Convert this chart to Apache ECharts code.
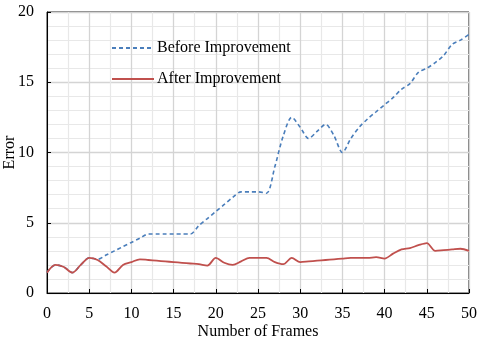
<!DOCTYPE html>
<html><head><meta charset="utf-8">
<script src="https://cdn.jsdelivr.net/npm/echarts@6/dist/echarts.min.js"></script>
<style>html,body{margin:0;padding:0;background:#fff}#c{width:480px;height:339px}</style>
</head><body><div id="c"></div>
<script>
var frames = [];
for (var i = 0; i <= 50; i++) frames.push(i);
var beforeImprovement = [1.45,2.0,1.85,1.45,2.0,2.5,2.4,2.7,3.0,3.3,3.6,3.9,4.2,4.2,4.2,4.2,4.2,4.2,4.8,5.3,5.8,6.3,6.8,7.2,7.2,7.2,7.1,9.0,11.2,12.5,11.8,11.0,11.5,12.0,11.2,10.0,11.0,11.8,12.4,12.9,13.4,13.9,14.5,14.9,15.7,16.0,16.4,16.9,17.7,18.0,18.4];
var afterImprovement = [1.45,2.0,1.85,1.45,2.0,2.5,2.35,1.9,1.45,2.0,2.2,2.4,2.35,2.3,2.25,2.2,2.15,2.1,2.05,1.95,2.5,2.15,2.0,2.25,2.5,2.5,2.5,2.2,2.05,2.5,2.2,2.25,2.3,2.35,2.4,2.45,2.5,2.5,2.5,2.55,2.45,2.8,3.1,3.2,3.4,3.55,3.0,3.05,3.1,3.15,3.0];
var seriesNames = ['Before Improvement','After Improvement'];
var xTitle = 'Number of Frames';
var yTitle = 'Error';

function pairs(arr){ return arr.map(function(v,i){ return [frames[i], v]; }); }
var font = 'Liberation Serif';
var chart = echarts.init(document.getElementById('c'));
chart.setOption({
  animation: false,
  textStyle: { fontFamily: font, color: '#000' },
  grid: { left: 47, right: 11, top: 12, bottom: 46, show: true, borderColor: '#000', borderWidth: 1, backgroundColor: 'transparent', containLabel: false, outerBoundsMode: 'none' },
  legend: {
    orient: 'vertical', left: 106, top: 35, itemWidth: 42, itemHeight: 14, itemGap: 15,
    itemStyle: { opacity: 0 },
    textStyle: { fontFamily: font, fontSize: 16, color: '#000', padding: [0, 0, 0, -2] },
    data: [{name: seriesNames[0]}, {name: seriesNames[1]}]
  },
  xAxis: {
    type: 'value', min: 0, max: 50, interval: 5,
    name: xTitle, nameLocation: 'middle', nameGap: 31, nameMoveOverlap: false,
    nameTextStyle: { fontFamily: font, fontSize: 16, color: '#000' },
    axisLine: { show: true, lineStyle: { color: '#000', width: 1 } },
    axisTick: { show: true, inside: true, length: 4, lineStyle: { color: '#000' } },
    axisLabel: { fontFamily: font, fontSize: 16, color: '#000', margin: 13 },
    splitLine: { show: true, lineStyle: { color: '#d4d4d4', width: 1.3 } },
    minorTick: { show: false, splitNumber: 2 },
    minorSplitLine: { show: true, lineStyle: { color: '#e8e8e8', width: 1.2 } }
  },
  yAxis: {
    type: 'value', min: 0, max: 20, interval: 5,
    name: yTitle, nameLocation: 'middle', nameGap: 29, nameRotate: 90, nameMoveOverlap: false,
    nameTextStyle: { fontFamily: font, fontSize: 16, color: '#000' },
    axisLine: { show: true, lineStyle: { color: '#000', width: 1 } },
    axisTick: { show: true, inside: true, length: 4, lineStyle: { color: '#000' } },
    axisLabel: { fontFamily: font, fontSize: 16, color: '#000', margin: 13 },
    splitLine: { show: true, lineStyle: { color: '#d4d4d4', width: 1.3 } },
    minorTick: { show: false, splitNumber: 5 },
    minorSplitLine: { show: true, lineStyle: { color: '#e8e8e8', width: 1.2 } }
  },
  series: [
    { name: seriesNames[0], type: 'line', data: pairs(beforeImprovement), smooth: 0.3, symbol: 'none',
      color: '#4a7ebb', lineStyle: { color: '#4a7ebb', width: 1.6, type: [4, 3] }, z: 2 },
    { name: seriesNames[1], type: 'line', data: pairs(afterImprovement), smooth: 0.3, symbol: 'none',
      color: '#c0504d', lineStyle: { color: '#c0504d', width: 1.8 }, z: 3 }
  ]
});
</script></body></html>
